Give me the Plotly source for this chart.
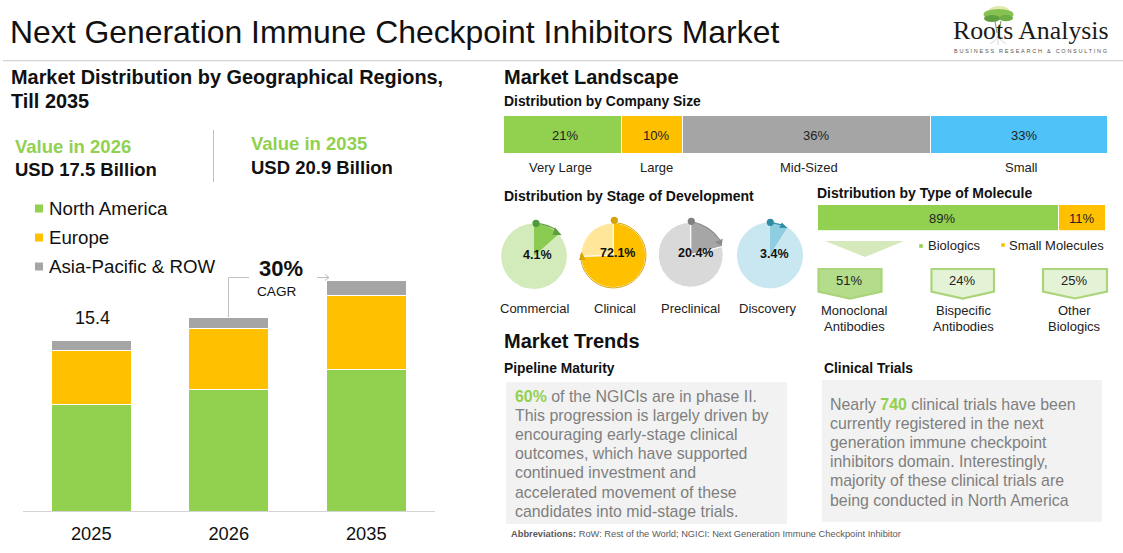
import math
import re

import plotly.graph_objects as go

W, H = 1123, 553
SANS = "Liberation Sans"
GREEN = "#92D050"
YELLOW = "#FFC000"
GRAY = "#A5A5A5"
BLUE = "#4FC3F7"
INK = "#111111"
BODY = "#7F7F7F"
RULE = "#D4D4D4"

# market size, USD billion
years = ["2025", "2026", "2035"]
region_names = ["North America", "Europe", "Asia-Pacific & ROW"]
north_america = [9.6, 11.0, 12.8]
europe = [4.9, 5.5, 6.7]
asia_row = [0.9, 1.0, 1.4]

# drawn widths are read off the picture, the printed labels do not match them
company_sizes = ["Very Large", "Large", "Mid-Sized", "Small"]
company_widths = [19.5, 10.1, 41.1, 29.3]
company_labels = ["21%", "10%", "36%", "33%"]

stages = ["Commercial", "Clinical", "Preclinical", "Discovery"]
stage_labels = ["4.1%", "72.1%", "20.4%", "3.4%"]
stage_wedges = [13.5, 74.5, 21, 9]

molecule_types = ["Biologics", "Small Molecules"]
molecule_widths = [83.7, 16.3]
molecule_labels = ["89%", "11%"]

biologic_types = [["Monoclonal", "Antibodies"], ["Bispecific", "Antibodies"], ["Other", "Biologics"]]
biologic_labels = ["51%", "24%", "25%"]

pipeline_lines = [
    "<b style='color:#92D050'>60%</b> of the NGICIs are in phase II.",
    "This progression is largely driven by",
    "encouraging early-stage clinical",
    "outcomes, which have supported",
    "continued investment and",
    "accelerated movement of these",
    "candidates into mid-stage trials.",
]
trials_lines = [
    "Nearly <b style='color:#92D050'>740</b> clinical trials have been",
    "currently registered in the next",
    "generation immune checkpoint",
    "inhibitors domain. Interestingly,",
    "majority of these clinical trials are",
    "being conducted in North America",
]


def fx(x):
    return x / W


def fy(y):
    return 1 - y / H


def to_paper(path):
    # path is written in picture pixels
    return re.sub(
        r"(-?[\d.]+)[ ,](-?[\d.]+)",
        lambda m: f"{fx(float(m[1])):.5f},{fy(float(m[2])):.5f}",
        path,
    )


annotations = []
shapes = []


def label(x, y, text, size=13, color=INK, anchor="left", bold=False, family=SANS):
    if bold:
        text = f"<b>{text}</b>"
    if anchor == "left":
        x -= 1  # annotations sit a pixel to the right of their anchor
    annotations.append(dict(
        xref="paper", yref="paper", x=fx(x), y=fy(y), text=text, showarrow=False,
        xanchor=anchor, yanchor="middle", borderpad=0,
        font=dict(family=family, size=size, color=color),
    ))


def rect(x0, y0, x1, y1, color, layer="below"):
    shapes.append(dict(
        type="rect", xref="paper", yref="paper", x0=fx(x0), x1=fx(x1), y0=fy(y0), y1=fy(y1),
        fillcolor=color, line_width=0, layer=layer,
    ))


def ellipse(cx, cy, rx, ry, color):
    shapes.append(dict(
        type="circle", xref="paper", yref="paper", x0=fx(cx - rx), x1=fx(cx + rx),
        y0=fy(cy - ry), y1=fy(cy + ry), fillcolor=color, line_width=0, layer="above",
    ))


def path(d, fill=None, line=None, width=1, layer="above"):
    shapes.append(dict(
        type="path", xref="paper", yref="paper", path=to_paper(d),
        fillcolor=fill if fill else "rgba(0,0,0,0)",
        line=dict(color=line if line else "rgba(0,0,0,0)", width=width if line else 0),
        layer=layer,
    ))


def arc(cx, cy, r, a0, a1):
    # angles clockwise from twelve o'clock
    pts = []
    for i in range(41):
        a = math.radians(a0 + (a1 - a0) * i / 40)
        pts.append(f"{cx + r * math.sin(a):.2f} {cy - r * math.cos(a):.2f}")
    return "M " + " L ".join(pts)


fig = go.Figure()

# market columns
for name, vals, color in zip(region_names, [north_america, europe, asia_row], [GREEN, YELLOW, GRAY]):
    fig.add_trace(go.Bar(
        x=years, y=vals, name=name, width=0.582, xaxis="x", yaxis="y",
        marker=dict(color=color, line=dict(color="white", width=1)),
        showlegend=False,
    ))

# company size strip
for name, w, color in zip(company_sizes, company_widths, [GREEN, YELLOW, GRAY, BLUE]):
    fig.add_trace(go.Bar(
        x=[w], y=["size"], name=name, orientation="h", width=1, xaxis="x2", yaxis="y2",
        marker=dict(color=color, line=dict(color="white", width=1)),
        showlegend=False,
    ))

# molecule strip
for name, w, color in zip(molecule_types, molecule_widths, [GREEN, YELLOW]):
    fig.add_trace(go.Bar(
        x=[w], y=["type"], name=name, orientation="h", width=1, xaxis="x3", yaxis="y3",
        marker=dict(color=color, line=dict(color="white", width=1)),
        showlegend=False,
    ))

# stage pies
pie_spots = [(534, 256.3, 32.8), (613.3, 255.3, 32.3), (690.7, 254.7, 32.5), (770, 255.3, 33)]
pie_colors = [
    ("#8CCB52", "#D3EBBB"),
    ("#FFC000", "#FFE699"),
    ("#A6A6A6", "#D9D9D9"),
    ("#8FCDE0", "#C9E7F1"),
]
pie_edges = [0, 1, 1, 0]
for name, wedge, spot, cols, edge in zip(stages, stage_wedges, pie_spots, pie_colors, pie_edges):
    cx, cy, r = spot
    fig.add_trace(go.Pie(
        values=[wedge, 100 - wedge], labels=[name, "Rest"], sort=False, direction="clockwise",
        rotation=0, textinfo="none", showlegend=False,
        domain=dict(x=[fx(cx - r), fx(cx + r)], y=[fy(cy + r), fy(cy - r)]),
        marker=dict(colors=list(cols), line=dict(color="white", width=edge)),
    ))

# pointers on the pies
path("M 537 223.4 Q 549 224.5 557 231", line="#5B9E3C", width=1.2)
path("M 555 227.5 L 561.7 235.3 L 552.5 234.7 Z", fill="#5B9E3C")
ellipse(536, 223.3, 3.6, 3.6, "#4E9A3A")

path(arc(613.3, 255.3, 32.6, 2, 272), line="#D9A406", width=1)
path("M 581.7 251.5 L 585.5 260 L 579 260 Z", fill="#D9A406")
ellipse(614.3, 220.3, 3.6, 3.6, "#D4A40A")

path("M 692 221.5 Q 710 226 720 240", line="#8C8C8C", width=1.2)
path("M 715 242 L 722.7 238.7 L 721.7 246.3 Z", fill="#8C8C8C")
ellipse(691.3, 221.3, 3.6, 3.6, "#808080")

path("M 771 222.5 L 784 225.5", line="#2E8CA5", width=1.2)
path("M 781.7 222.4 L 787.3 228 L 779.3 227.7 Z", fill="#2E8CA5")
ellipse(770.3, 222.3, 3.6, 3.6, "#2E8CA5")

# logo
ellipse(999, 10, 10, 4, "#E4E9B0")
ellipse(998.5, 14.5, 15, 5.5, "#86C251")
ellipse(992, 18.5, 8, 3.4, "#5F9F40")
ellipse(1006, 18, 7, 3.2, "#6FAE45")
path("M 995 21 L 997 33 M 1001 21 L 999 33", line="#7A9A5A", width=1)
path("M 998 36 Q 996 41 990 44 M 998 36 L 998 45 M 998 36 Q 1001 41 1006 44", line="#D5D5D5", width=1)
label(953, 30.5, "Roots Analysis", size=25.8, color="#1A1A1A", family="Liberation Serif")
label(954, 51, "<span style='letter-spacing:1.75px'>BUSINESS RESEARCH &amp; CONSULTING</span>", size=5.5, color="#555555")

# title block
label(10, 32, "Next Generation Immune Checkpoint Inhibitors Market", size=31.9)
path("M 3 60.7 L 1123 60.7", line=RULE, width=1.2)

# left column
label(11, 77, "Market Distribution by Geographical Regions,", size=19.9, bold=True)
label(11, 101, "Till 2035", size=19.9, bold=True)
label(15, 146, "Value in 2026", size=18.5, color=GREEN, bold=True)
label(15, 169, "USD 17.5 Billion", size=18.5, bold=True)
path("M 213.5 130 L 213.5 182", line="#BFBFBF", width=1)
label(251, 144, "Value in 2035", size=18.5, color=GREEN, bold=True)
label(251, 167, "USD 20.9 Billion", size=18.5, bold=True)

for name, color, y in zip(region_names, [GREEN, YELLOW, GRAY], [208.5, 237.5, 266.5]):
    rect(35, y - 4, 43, y + 4, color)
    label(48.5, y, name, size=18.7)

label(92.5, 318, "15.4", size=18, anchor="center")
label(281, 268, "30%", size=22, anchor="center", bold=True)
label(276, 291, "CAGR", size=13.6, anchor="center")
path("M 228.5 317 L 228.5 277.5 L 249 277.5", line="#BFBFBF", width=1)
path("M 317 277.5 L 329 277.5 M 325 274.5 L 329 277.5 L 325 280.5", line="#BFBFBF", width=1)

# right column, landscape
label(503.5, 77, "Market Landscape", size=20, bold=True)
label(503.5, 101, "Distribution by Company Size", size=13.9, bold=True)
for text, x in zip(company_labels, [565, 656, 816, 1024]):
    label(x, 136, text, size=13, anchor="center", color="#222222")
for text, x in zip(company_sizes, [560, 656, 809, 1021]):
    label(x, 167, text, size=13, anchor="center", color="#222222")

label(503.5, 196, "Distribution by Stage of Development", size=14, bold=True)
for text, x, y in zip(stage_labels, [537.7, 617, 695.7, 774.7], [254.7, 253, 252.7, 254]):
    label(x, y, text, size=12.5, anchor="center", bold=True)
for text, x in zip(stages, [534.3, 615.3, 690.3, 768.3]):
    label(x, 308.8, text, size=13, anchor="center", color="#222222")

label(816.5, 193, "Distribution by Type of Molecule", size=14, bold=True)
for text, x in zip(molecule_labels, [942.3, 1081.7]):
    label(x, 218.3, text, size=13, anchor="center", color="#222222")

path("M 825 241 L 904 241 L 865 257 Z", fill="#D5E9BC", layer="below")
rect(919.2, 244.2, 922.8, 247.8, GREEN)
label(928.3, 246, molecule_types[0], size=13, color="#222222")
rect(1001.2, 243.2, 1004.8, 246.8, YELLOW)
label(1009, 246, molecule_types[1], size=13, color="#222222")

pent_boxes = [(818.5, 881.5), (931.5, 994), (1043, 1107)]
pent_fills = ["#B3DC8B", "#E4F2D6", "#E4F2D6"]
for (x0, x1), fill in zip(pent_boxes, pent_fills):
    mid = (x0 + x1) / 2
    path(f"M {x0} 269 L {x1} 269 L {x1} 291.5 L {mid} 298.5 L {x0} 291.5 Z", fill=fill, line="#AAD57A", width=2.2, layer="below")
for text, x in zip(biologic_labels, [849.3, 962.3, 1074.3]):
    label(x, 280, text, size=13, anchor="center", color="#222222")
for lines, x in zip(biologic_types, [854, 963.7, 1074]):
    label(x, 310.2, lines[0], size=13, anchor="center", color="#222222")
    label(x, 326, lines[1], size=13, anchor="center", color="#222222")

# market trends
label(504, 340.7, "Market Trends", size=20, bold=True)
label(504, 368.3, "Pipeline Maturity", size=13.8, bold=True)
label(824, 368.3, "Clinical Trials", size=13.8, bold=True)
rect(506, 382.3, 787, 524, "#F2F2F2")
rect(822, 380, 1102, 521.7, "#F2F2F2")
for line, y in zip(pipeline_lines, [396.7, 415.7, 434.7, 453.3, 472.3, 492.3, 511.7]):
    label(515, y, line, size=15.9, color=BODY)
for line, y in zip(trials_lines, [404.3, 423.7, 442.7, 461.7, 480.7, 500]):
    label(830.2, y, line, size=15.9, color=BODY)
label(511, 534, "<b>Abbreviations:</b> RoW: Rest of the World; NGICI: Next Generation Immune Checkpoint Inhibitor", size=9.3, color="#595959")

fig.update_layout(
    width=W,
    height=H,
    margin=dict(l=0, r=0, t=0, b=0),
    paper_bgcolor="white",
    plot_bgcolor="rgba(0,0,0,0)",
    barmode="stack",
    showlegend=False,
    annotations=annotations,
    shapes=shapes,
    xaxis=dict(
        domain=[fx(22.5), fx(435)], type="category", categoryorder="array", categoryarray=years,
        showline=True, linecolor=RULE, linewidth=1, showgrid=False, ticks="", ticklabelstandoff=6,
        tickfont=dict(family=SANS, size=18.3, color=INK), anchor="y",
    ),
    yaxis=dict(domain=[fy(511), fy(270)], range=[0, 241 / 11.05], visible=False, anchor="x"),
    xaxis2=dict(domain=[fx(503.8), fx(1107.4)], range=[0, 100], visible=False, anchor="y2"),
    yaxis2=dict(domain=[fy(153), fy(115)], visible=False, anchor="x2"),
    xaxis3=dict(domain=[fx(817.7), fx(1105)], range=[0, 100], visible=False, anchor="y3"),
    yaxis3=dict(domain=[fy(230.7), fy(204)], visible=False, anchor="x3"),
)

fig.write_html("out.html", config=dict(displayModeBar=False), post_script="document.body.style.margin='0';")
